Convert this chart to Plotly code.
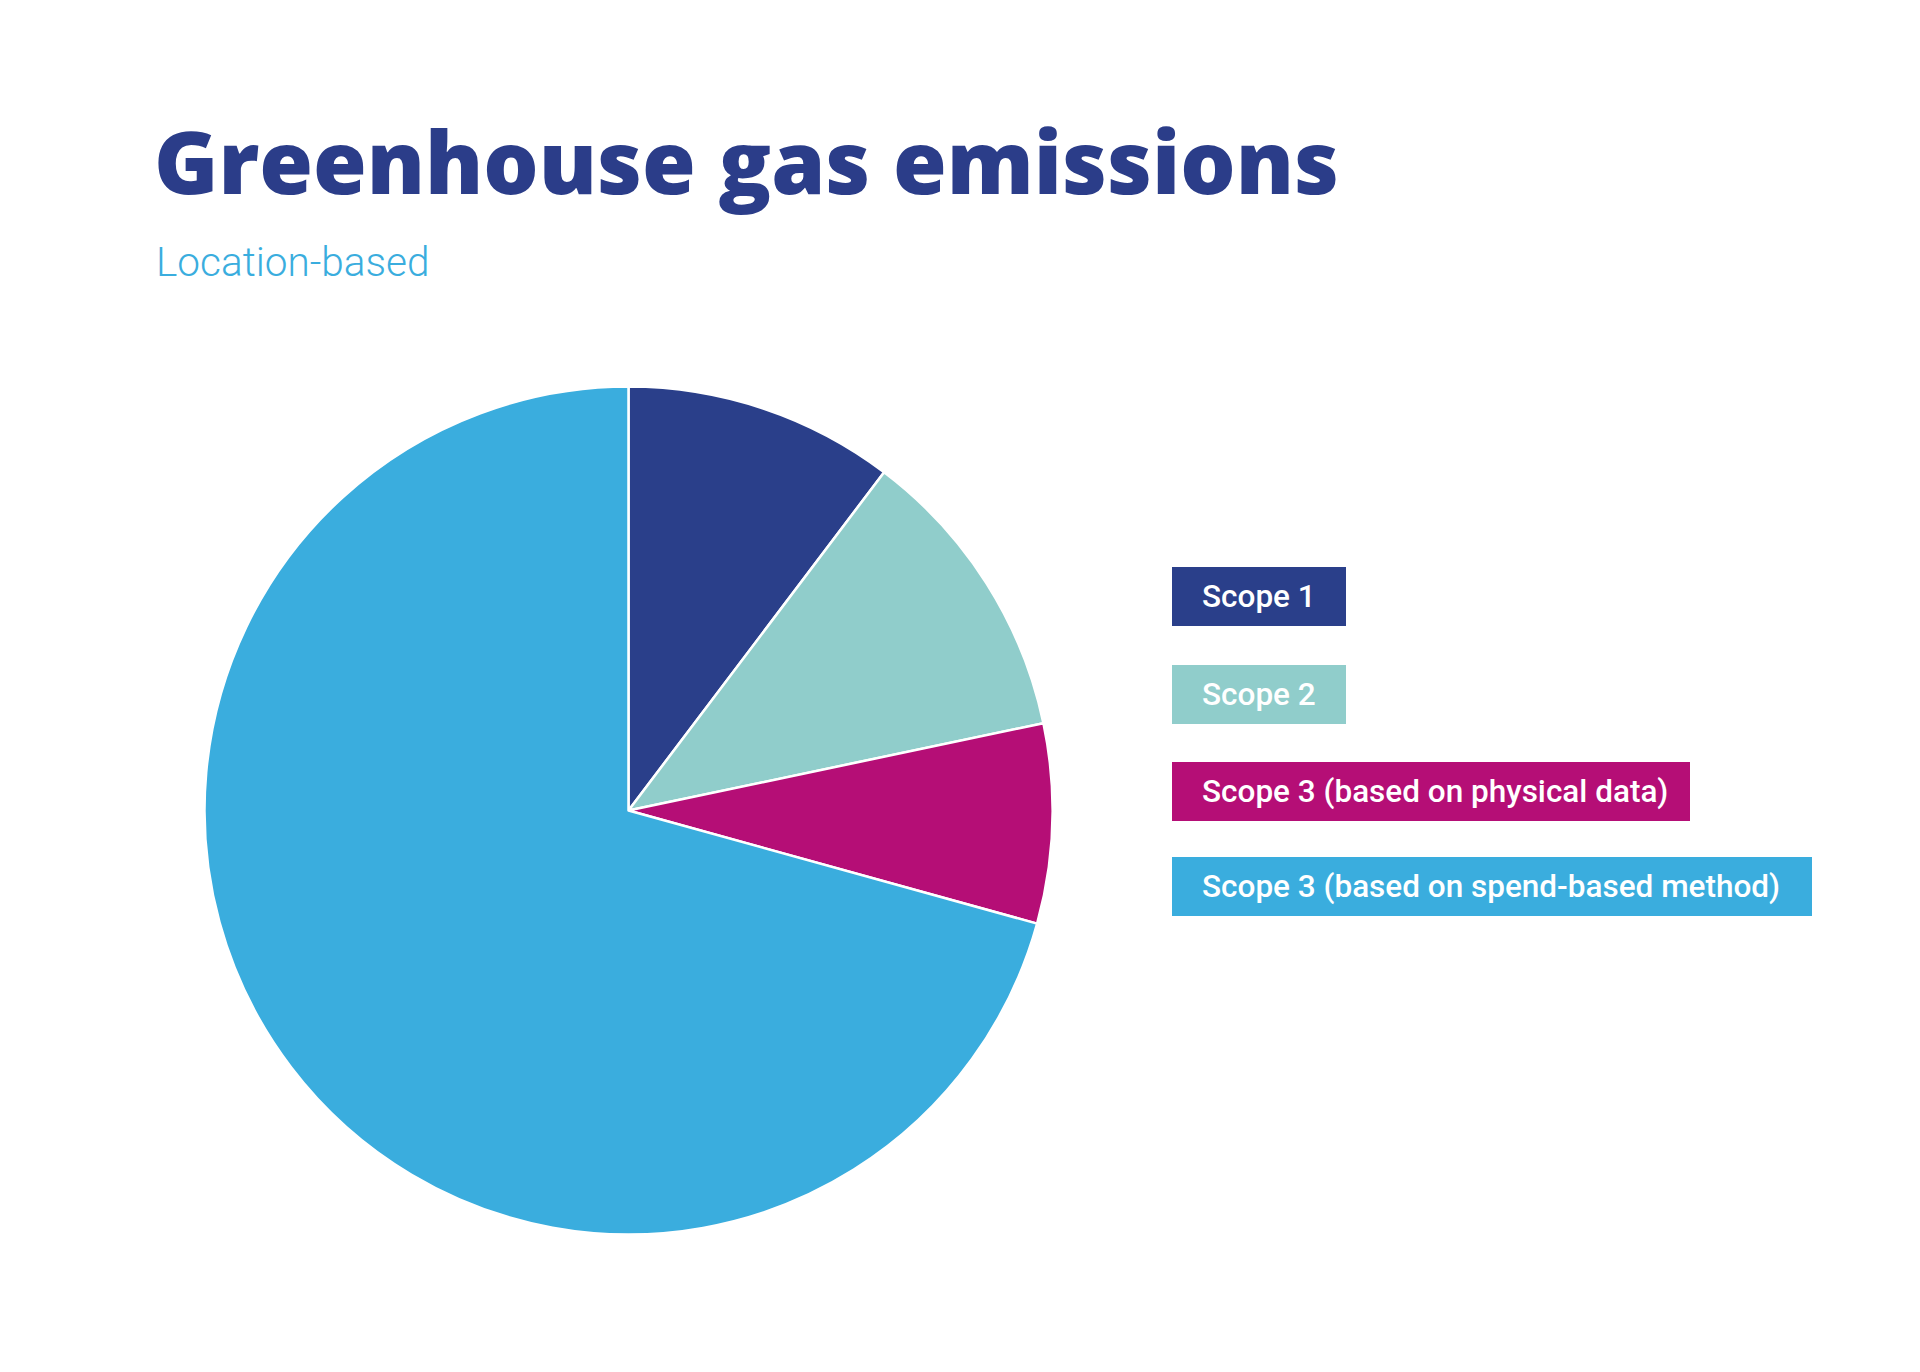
import plotly.graph_objects as go

# ---- data ----
labels = ["Scope 1", "Scope 2", "Scope 3 (based on physical data)", "Scope 3 (based on spend-based method)"]
values = [10.3, 11.4, 7.6, 70.7]
colors = ["#2A3F8A", "#90CDCB", "#B50E76", "#3AADDE"]

title_text = "Greenhouse gas emissions"
subtitle_text = "Location-based"

# ---- layout constants (pixels, page coordinates) ----
W, H = 1920, 1372
OFF = 8  # body margin of the html page
box_left = 1172
box_widths = [174, 174, 518, 640]
box_tops = [567, 665, 762, 857]
box_h = 59
text_pad = 28


def px_x(x):
    return (x - OFF) / W


def px_y(y):
    return 1 - (y - OFF) / H


fig = go.Figure()
fig.add_trace(go.Pie(
    labels=labels,
    values=values,
    marker=dict(colors=colors, line=dict(color="white", width=2.5)),
    sort=False,
    direction="clockwise",
    rotation=0,
    textinfo="none",
    showlegend=False,
    domain=dict(x=[px_x(204.5), px_x(1052.5)], y=[px_y(1236), px_y(385)]),
))

shapes = []
annotations = []
for lab, col, bw, bt in zip(labels, colors, box_widths, box_tops):
    shapes.append(dict(
        type="rect", xref="paper", yref="paper",
        x0=px_x(box_left), x1=px_x(box_left + bw),
        y0=px_y(bt + box_h), y1=px_y(bt),
        fillcolor=col, line=dict(width=0), layer="above",
    ))
    annotations.append(dict(
        text=lab, xref="paper", yref="paper",
        x=px_x(box_left + text_pad), y=px_y(bt + box_h / 2),
        xanchor="left", yanchor="middle", showarrow=False,
        font=dict(family="Roboto", size=31.5, color="white", weight=500),
    ))

annotations.append(dict(
    text=title_text, xref="paper", yref="paper",
    x=px_x(152), y=px_y(160), xanchor="left", yanchor="middle", showarrow=False,
    font=dict(family="Open Sans", size=87, color="#2B3D89", weight=800),
))
annotations.append(dict(
    text=subtitle_text, xref="paper", yref="paper",
    x=px_x(154), y=px_y(262), xanchor="left", yanchor="middle", showarrow=False,
    font=dict(family="Roboto", size=40.5, color="#3AADDE", weight=300),
))

fig.update_layout(
    width=W, height=H,
    margin=dict(l=0, r=0, t=0, b=0),
    paper_bgcolor="white", plot_bgcolor="white",
    shapes=shapes, annotations=annotations,
)

fig.write_html("out.html")
